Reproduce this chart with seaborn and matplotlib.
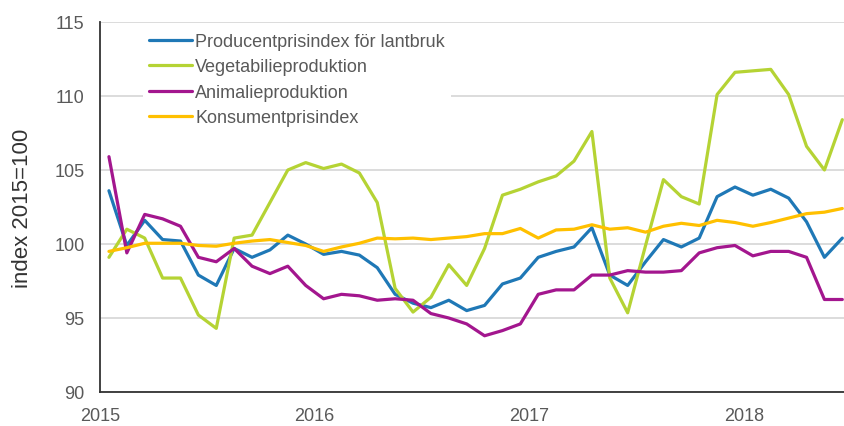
import numpy as np
import pandas as pd
import seaborn as sns
import matplotlib.pyplot as plt


################################################################################

Y_LABEL = "index 2015=100"

SERIES = ["Producentprisindex för lantbruk", "Vegetabilieproduktion",
          "Animalieproduktion", "Konsumentprisindex"]
COLORS = ["#1f78b6", "#b5d334", "#a3168e", "#ffc000"]

YEAR_TICKS = ["2015", "2016", "2017", "2018"]

# monthly values, Jan 2015 - Jun 2018
producent = [103.6, 99.9, 101.6, 100.3, 100.2, 97.9, 97.2, 99.7, 99.1, 99.6,
             100.6, 100.0, 99.3, 99.5, 99.25, 98.4, 96.6, 96.0, 95.7, 96.2,
             95.5, 95.85, 97.3, 97.7, 99.1, 99.5, 99.8, 101.1, 97.9, 97.2,
             98.8, 100.3, 99.8, 100.4, 103.2, 103.85, 103.3, 103.7, 103.1,
             101.5, 99.1, 100.4]
vegetabilie = [99.1, 101.0, 100.4, 97.7, 97.7, 95.2, 94.3, 100.4, 100.6, 102.8,
               105.0, 105.5, 105.1, 105.4, 104.8, 102.8, 97.0, 95.4, 96.4,
               98.6, 97.2, 99.7, 103.3, 103.7, 104.2, 104.6, 105.6, 107.6,
               97.7, 95.35, 99.9, 104.35, 103.2, 102.7, 110.1, 111.6, 111.7,
               111.8, 110.1, 106.6, 105.0, 108.4]
animalie = [105.9, 99.4, 102.0, 101.7, 101.2, 99.1, 98.8, 99.7, 98.5, 98.0,
            98.5, 97.2, 96.3, 96.6, 96.5, 96.2, 96.3, 96.2, 95.3, 95.0, 94.6,
            93.8, 94.15, 94.6, 96.6, 96.9, 96.9, 97.9, 97.9, 98.2, 98.1, 98.1,
            98.2, 99.4, 99.75, 99.9, 99.2, 99.5, 99.5, 99.1, 96.25, 96.25]
konsument = [99.5, 99.75, 100.05, 100.05, 100.05, 99.9, 99.85, 100.05, 100.2,
             100.3, 100.1, 99.9, 99.5, 99.8, 100.05, 100.4, 100.35, 100.4,
             100.3, 100.4, 100.5, 100.7, 100.7, 101.05, 100.4, 100.95, 101.0,
             101.3, 101.0, 101.1, 100.8, 101.2, 101.4, 101.25, 101.6, 101.45,
             101.2, 101.45, 101.75, 102.05, 102.15, 102.4]


def buildFrame():
  rows = []
  for name, vals in zip(SERIES, [producent, vegetabilie, animalie, konsument]):
    for i, v in enumerate(vals):
      rows.append((i + 0.5, v, name))
  return pd.DataFrame(rows, columns=["month", "value", "serie"])


def plotIndex(ax):
  df = buildFrame()
  sns.lineplot(data=df, x="month", y="value", hue="serie", hue_order=SERIES,
               palette=COLORS, linewidth=2.3, ax=ax)

  ax.set_xlim(0, 41.65)
  ax.set_ylim(90, 115)
  ax.set_yticks(np.arange(90, 116, 5))
  ax.set_xticks([0, 12, 24, 36])
  ax.set_xticklabels(YEAR_TICKS)
  ax.set_xlabel("")
  ax.set_ylabel(Y_LABEL, fontsize=16, color="#333333")
  ax.yaxis.set_label_coords(-67 / 745, 0.5)

  ax.grid(axis="y", color="#d9d9d9", linewidth=1.3)
  ax.grid(axis="x", visible=False)
  ax.set_axisbelow(True)

  for s in ["top", "right"]:
    ax.spines[s].set_visible(False)
  for s in ["left", "bottom"]:
    ax.spines[s].set_color("#333333")
    ax.spines[s].set_linewidth(1.3)
  ax.tick_params(axis="both", direction="out", length=5, width=1.3,
                 color="#333333", labelcolor="#595959", labelsize=13, pad=6)

  leg = ax.legend(loc="upper left", bbox_to_anchor=(0.045, 1.012), fontsize=13,
                  frameon=True, facecolor="white", edgecolor="none",
                  framealpha=1, fancybox=False, handlelength=2.4,
                  handletextpad=0.17, labelspacing=0.47, borderpad=0.35)
  for t in leg.get_texts():
    t.set_color("#595959")
  for l in leg.get_lines():
    l.set_linewidth(2.3)


def main():
  sns.set_style("white")
  plt.rcParams["font.family"] = ["Liberation Sans", "DejaVu Sans"]

  fig = plt.figure(figsize=(8.45, 4.27), dpi=100)
  ax = fig.add_axes([100 / 845, 34 / 427, 745 / 845, 370 / 427])
  plotIndex(ax)
  fig.savefig("out.png", dpi=100)

main()
